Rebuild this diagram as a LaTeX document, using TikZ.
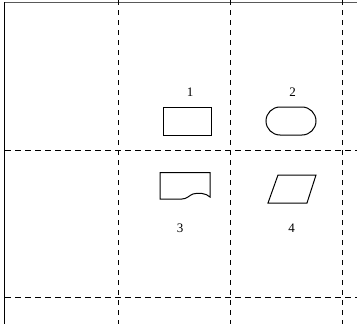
\documentclass[tikz,border=0pt]{standalone}
\usepackage{fontspec}
\setmainfont{Liberation Serif}
\begin{document}
\begin{tikzpicture}[x=1pt,y=-1pt,
  gridline/.style={line width=1.2pt,dash pattern=on 5pt off 5pt},
  shapeline/.style={line width=1.0pt},
  lbl/.style={inner sep=0pt,font=\fontsize{13}{13}\selectfont}]
\useasboundingbox[fill=white] (0,0) rectangle (357,324);
% border
\draw[line width=0.8pt,gray!70!black] (5,2.5) -- (357,2.5);
\draw[line width=1.6pt] (4.5,2) -- (4.5,324);
% grid
\foreach \x in {118.5,230.5,342.5} \draw[gridline] (\x,0) -- (\x,324);
\foreach \y in {150.5,297.5} \draw[gridline,dash pattern=on 6pt off 4pt] (5,\y) -- (357,\y);
% shapes
\draw[shapeline] (163,107) rectangle (211,135);
\draw[shapeline,rounded corners=14pt] (266,107) rectangle (316,135);
\draw[shapeline] (160,172.5) -- (210,172.5) -- (210,197)
  .. controls (206,193) and (198,192.5) .. (193,194)
  .. controls (189,195.5) and (187,199) .. (182,199) -- (160,199) -- cycle;
\draw[shapeline] (278,175) -- (316,175) -- (307,203) -- (268,203) -- cycle;
% labels
\node[lbl] (l1) at (190,92) {1};
\node[lbl] (l2) at (292.5,92) {2};
\node[lbl] (l3) at (180,228) {3};
\node[lbl] (l4) at (291.5,228) {4};
\end{tikzpicture}
\end{document}
